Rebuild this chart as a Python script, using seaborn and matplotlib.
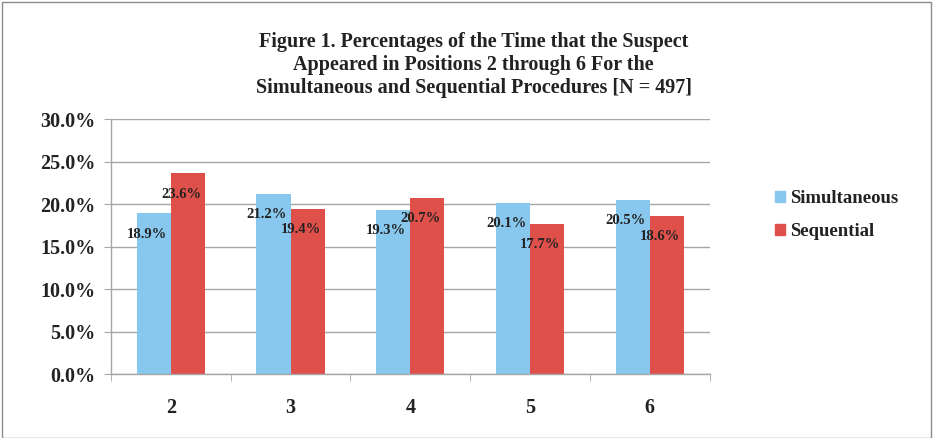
import numpy as np
import pandas as pd
import seaborn as sns
import matplotlib.pyplot as plt
from matplotlib.patches import Rectangle
from matplotlib.ticker import PercentFormatter

positions = ["2", "3", "4", "5", "6"]
simultaneous = [18.9, 21.2, 19.3, 20.1, 20.5]
sequential = [23.6, 19.4, 20.7, 17.7, 18.6]
series_names = ["Simultaneous", "Sequential"]

df = pd.DataFrame({
    "Position": positions * 2,
    "Percent": simultaneous + sequential,
    "Procedure": [series_names[0]] * len(positions) + [series_names[1]] * len(positions),
})

sns.set_style("white")
plt.rcParams["font.family"] = ["Liberation Serif", "DejaVu Serif"]
plt.rcParams["font.weight"] = "bold"

fig = plt.figure(figsize=(9.34, 4.38), dpi=100)
ax = fig.add_axes([0.1188, 0.1461, 0.641, 0.5822])

palette = {"Simultaneous": "#89C8EE", "Sequential": "#DF504B"}
sns.barplot(data=df, x="Position", y="Percent", hue="Procedure",
            palette=palette, width=0.57, saturation=1, linewidth=0,
            ax=ax, legend=False)

ax.set_ylim(0, 30)
ax.set_xlim(-0.5, 4.5)
ax.set_yticks(np.arange(0, 31, 5))
ax.yaxis.set_major_formatter(PercentFormatter(decimals=1))
ax.yaxis.grid(True, color="#A6A6A6", lw=1)
ax.set_axisbelow(True)
ax.set_xlabel("")
ax.set_ylabel("")

for s in ["top", "right"]:
    ax.spines[s].set_visible(False)
for s in ["left", "bottom"]:
    ax.spines[s].set_color("#A6A6A6")
    ax.spines[s].set_linewidth(1)

ax.tick_params(axis="y", which="major", left=True, length=5, color="#A6A6A6",
               labelsize=14.5, pad=6, labelcolor="#222222")
ax.tick_params(axis="x", which="major", bottom=False, labelsize=14.5, pad=14,
               labelcolor="#222222")
ax.set_xticks(np.arange(-0.5, 5, 1), minor=True)
ax.tick_params(axis="x", which="minor", bottom=True, length=5, color="#A6A6A6")
for lab in ax.get_xticklabels() + ax.get_yticklabels():
    lab.set_fontweight("bold")

# data labels, inside end of each bar
for cont in ax.containers:
    for bar in cont:
        h = bar.get_height()
        ax.annotate(f"{h:.1f}%", (bar.get_x() + bar.get_width() / 2, h),
                    xytext=(-5, -15), textcoords="offset points",
                    ha="center", va="center", fontsize=10.5, fontweight="bold",
                    color="#222222")

# legend
handles = [Rectangle((0, 0), 1, 1, color=palette[n]) for n in series_names]
fig.legend(handles, series_names, loc="upper left", bbox_to_anchor=(0.812, 0.605),
           frameon=False, handlelength=0.5, handleheight=0.5,
           handletextpad=0.3, labelspacing=0.85, labelcolor="#222222",
           prop={"weight": "bold", "size": 13.5})

fig.suptitle("Figure 1. Percentages of the Time that the Suspect\n"
             "Appeared in Positions 2 through 6 For the\n"
             "Simultaneous and Sequential Procedures [N = 497]",
             x=0.507, y=0.928, fontsize=14.5, fontweight="bold", linespacing=1.22,
             color="#222222")

# outer chart border
fig.patches.append(Rectangle((0.002, 0.0), 0.995, 0.995, transform=fig.transFigure,
                             fill=False, edgecolor="#8C8C8C", lw=1))

fig.savefig("out.png", dpi=100)
